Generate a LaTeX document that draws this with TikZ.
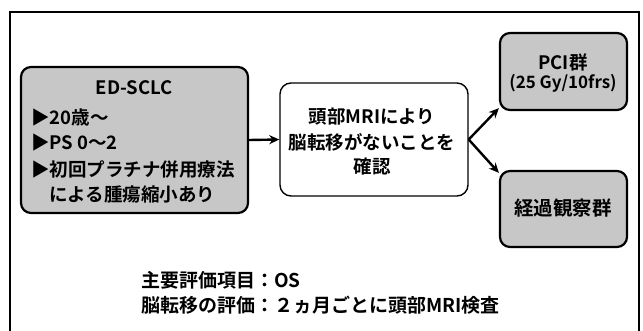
\documentclass[tikz,border=0pt]{standalone}
\usepackage{fontspec}
\setmainfont{Noto Sans CJK JP Bold}
\newfontfamily\jp{Noto Sans CJK JP Bold}
\usetikzlibrary{arrows.meta,calc}
\begin{document}
\begin{tikzpicture}[x=1pt,y=-1pt,
  graybox/.style={draw=black,line width=2.2pt,rounded corners=10pt,fill=black!22,inner sep=0pt},
  whitebox/.style={draw=black,line width=1.4pt,rounded corners=11pt,fill=white,inner sep=0pt},
  txt/.style={font=\jp\fontsize{18.5}{21}\selectfont,inner sep=0pt},
  btxt/.style={font=\jp\fontsize{19}{21}\selectfont,inner sep=0pt,anchor=west},
  arr/.style={-{Stealth[length=10pt,width=9pt]},line width=2.4pt}]
\useasboundingbox (0,0) rectangle (643,331);
\fill[white] (0,0) rectangle (643,331);
\draw[line width=1.5pt] (10,335) -- (10,12) -- (639,12) -- (639,335);
% boxes
\node[graybox,minimum width=227pt,minimum height=146pt] (crit) at (134.5,140) {};
\node[whitebox,minimum width=188pt,minimum height=113pt] (mri) at (374,139.5) {};
\node[graybox,minimum width=127pt,minimum height=77pt] (pci) at (563.5,71.5) {};
\node[graybox,minimum width=127pt,minimum height=76pt] (obs) at (563.5,209) {};
% left box text
\node[txt] (t1) at (134,88) {ED-SCLC};
\node[txt,anchor=west] (t2) at (31,117) {▶20歳～};
\node[txt,anchor=west] (t3) at (31,143) {▶PS 0～2};
\node[txt,anchor=west] (t4) at (31,170) {▶初回プラチナ併用療法};
\node[txt,anchor=west] (t5) at (49,194) {による腫瘍縮小あり};
% middle text
\node[txt] (m1) at (372,117) {頭部MRIにより};
\node[txt] (m2) at (372,142) {脳転移がないことを};
\node[txt] (m3) at (372,166) {確認};
% right texts
\node[txt] (p1) at (563,62) {PCI群};
\node[txt,font=\jp\fontsize{17}{20}\selectfont] (p2) at (563,83) {(25 Gy/10frs)};
\node[txt,font=\jp\fontsize{19.5}{21}\selectfont] (o1) at (563,208) {経過観察群};
% bottom text
\node[btxt] (b1) at (141,280) {主要評価項目：OS};
\node[btxt] (b2) at (141,305) {脳転移の評価：２ヵ月ごとに頭部MRI検査};
% arrows
\draw[arr] (crit.east) -- (mri.west);
\draw[arr] (mri.east) -- ($(pci.south west)+(0,-3)$);
\draw[arr] (mri.east) -- ($(obs.north west)+(0,3)$);
\end{tikzpicture}
\end{document}
